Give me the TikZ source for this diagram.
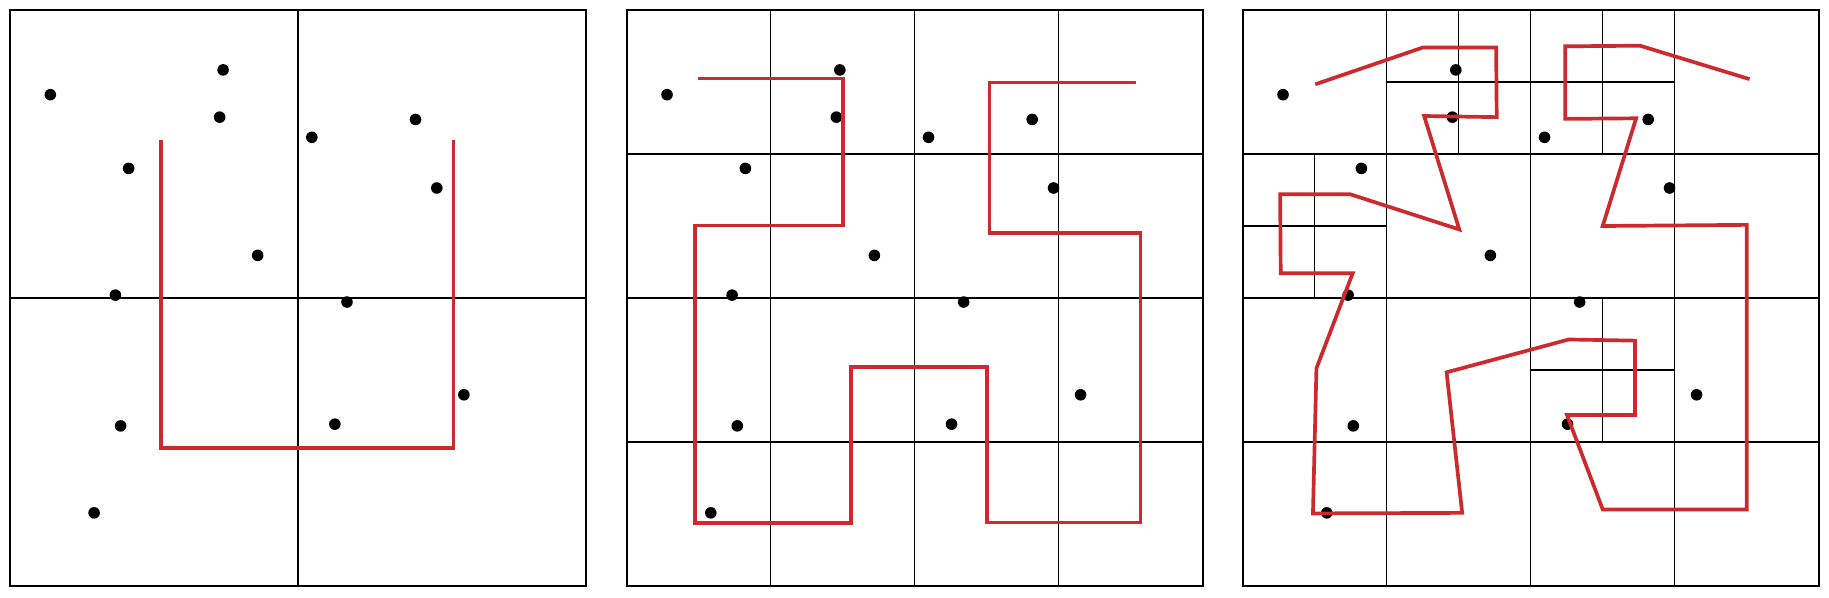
\documentclass[tikz,border=0pt]{standalone}
\usetikzlibrary{calc}
\definecolor{curvered}{RGB}{204,42,44}
\tikzset{
  cellline/.style={line width=0.4pt},
  frameline/.style={line width=0.6pt},
  curve/.style={curvered,line width=1.05pt,line join=miter},
  site/.style={circle,fill=black,inner sep=0pt,minimum size=3.3pt},
  panel/.style={x=5.76cm,y=-5.76cm}
}
\newcommand\sitepts[1]{%
  \foreach \px/\py [count=\i] in {0.070/0.147,0.370/0.104,0.364/0.186,0.206/0.275,
      0.430/0.426,0.183/0.495,0.192/0.722,0.146/0.873,0.524/0.221,0.704/0.190,
      0.741/0.309,0.585/0.507,0.788/0.668,0.564/0.719}
    \node[site] (#1\i) at (\px,\py) {};
}

\begin{document}
\begin{tikzpicture}
\useasboundingbox (0,0) rectangle (18.29,-5.97);

\begin{scope}[shift={(0.10cm,-0.10cm)},panel]
\draw[cellline] (0.5,0) -- (0.5,1) (0,0.5) -- (1,0.5);
\draw[frameline] (0,0) rectangle (1,1);
\sitepts{a}
\draw[curve] (0.262,0.225) -- (0.262,0.760) -- (0.770,0.760) -- (0.770,0.225);
\end{scope}

\begin{scope}[shift={(6.267cm,-0.10cm)},panel]
\draw[cellline] (0.25,0) -- (0.25,1) (0.5,0) -- (0.5,1) (0.75,0) -- (0.75,1);
\draw[cellline] (0,0.25) -- (1,0.25) (0,0.5) -- (1,0.5) (0,0.75) -- (1,0.75);
\draw[frameline] (0,0) rectangle (1,1);
\sitepts{b}
\draw[curve] (0.123,0.119) -- (0.375,0.119) -- (0.375,0.374) -- (0.119,0.374)
  -- (0.119,0.891) -- (0.389,0.891) -- (0.389,0.620) -- (0.626,0.620)
  -- (0.626,0.890) -- (0.892,0.890) -- (0.892,0.387) -- (0.630,0.387)
  -- (0.630,0.126) -- (0.884,0.126);
\end{scope}

\begin{scope}[shift={(12.427cm,-0.10cm)},panel]
\draw[cellline] (0.25,0) -- (0.25,1) (0.5,0) -- (0.5,1) (0.75,0) -- (0.75,1);
\draw[cellline] (0,0.25) -- (1,0.25) (0,0.5) -- (1,0.5) (0,0.75) -- (1,0.75);
\draw[cellline] (0.375,0) -- (0.375,0.25) (0.25,0.125) -- (0.5,0.125);
\draw[cellline] (0.125,0.25) -- (0.125,0.5) (0,0.375) -- (0.25,0.375);
\draw[cellline] (0.625,0) -- (0.625,0.25) (0.5,0.125) -- (0.75,0.125);
\draw[cellline] (0.625,0.5) -- (0.625,0.75) (0.5,0.625) -- (0.75,0.625);
\draw[frameline] (0,0) rectangle (1,1);
\sitepts{c}
\draw[curve] (0.126,0.129) -- (0.313,0.065) -- (0.440,0.065) -- (0.441,0.186)
  -- (0.315,0.184) -- (0.376,0.381) -- (0.187,0.320) -- (0.065,0.320)
  -- (0.066,0.457) -- (0.191,0.457) -- (0.128,0.622) -- (0.122,0.874)
  -- (0.381,0.873) -- (0.354,0.629) -- (0.566,0.572) -- (0.681,0.574)
  -- (0.681,0.703) -- (0.563,0.703) -- (0.625,0.867) -- (0.875,0.867)
  -- (0.875,0.373) -- (0.625,0.375) -- (0.683,0.188) -- (0.560,0.189)
  -- (0.560,0.063) -- (0.690,0.062) -- (0.880,0.120);
\end{scope}
\end{tikzpicture}
\end{document}
